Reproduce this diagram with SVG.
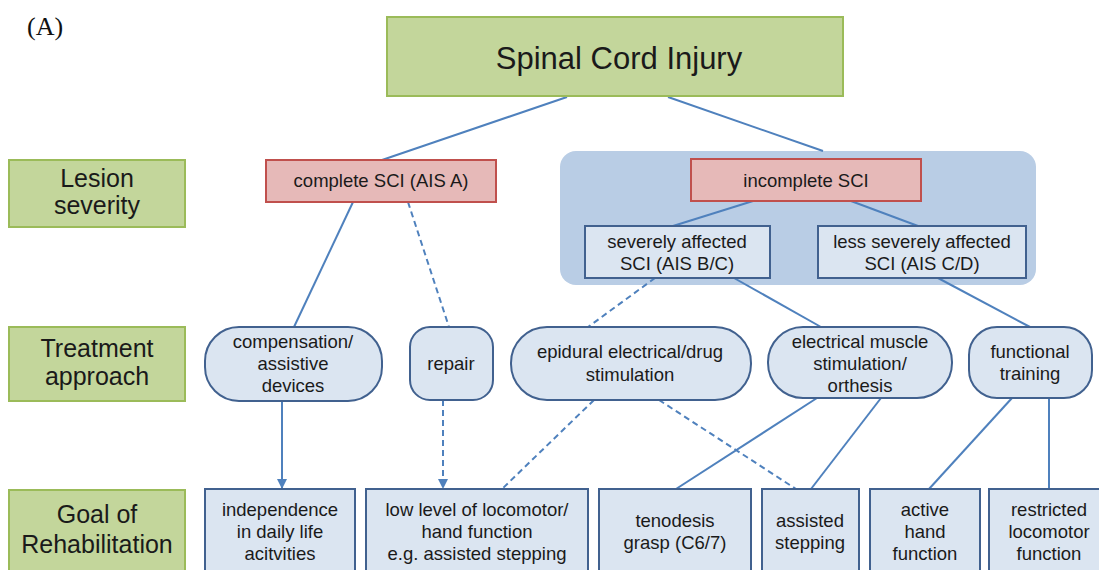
<svg xmlns="http://www.w3.org/2000/svg" width="1099" height="570" viewBox="0 0 1099 570">
<defs>
<style>
.lvl{fill:#c3d69b;stroke:#9bbb59;stroke-width:2}
.red{fill:#e6b9b8;stroke:#c0504d;stroke-width:2}
.blu{fill:#dbe5f1;stroke:#41618f;stroke-width:2}
.bg{fill:#b9cde5}
.t{font-family:"Liberation Sans",Arial,sans-serif;fill:#1a1a1a;text-anchor:middle}
.n{font-size:18.5px}
.big{font-size:25px}
.c{stroke:#4f81bd;stroke-width:2;fill:none}
.d{stroke-dasharray:6 4}
</style>
<marker id="ah" viewBox="0 0 10 10" refX="9" refY="5" markerWidth="5" markerHeight="5" orient="auto" markerUnits="strokeWidth">
<path d="M0,0 L10,5 L0,10 z" fill="#4f81bd"/>
</marker>
</defs>
<rect width="1099" height="570" fill="#ffffff"/>
<text x="27" y="35" font-family="Liberation Serif, 'Times New Roman', serif" font-size="26" fill="#111">(A)</text>

<g id="background-incomplete"><rect class="bg" x="560" y="151" width="476" height="134" rx="16"/></g>

<g id="connectors">
<line class="c" x1="567" y1="97" x2="382" y2="160"/>
<line class="c" x1="668" y1="97" x2="823" y2="151"/>
<line class="c" x1="753" y1="201" x2="673" y2="226"/>
<line class="c" x1="851" y1="201" x2="918" y2="226"/>
<line class="c" x1="353" y1="202" x2="294" y2="327"/>
<line class="c d" x1="408" y1="202" x2="449" y2="327"/>
<line class="c d" x1="655" y1="278" x2="588" y2="327"/>
<line class="c" x1="734" y1="278" x2="821" y2="327"/>
<line class="c" x1="938" y1="278" x2="1030" y2="327"/>
<line class="c" x1="282" y1="401" x2="282" y2="488" marker-end="url(#ah)"/>
<line class="c d" x1="443" y1="400" x2="443" y2="488" marker-end="url(#ah)"/>
<line class="c d" x1="594" y1="400" x2="502" y2="489"/>
<line class="c d" x1="659" y1="400" x2="796" y2="489"/>
<line class="c" x1="817" y1="398" x2="676" y2="489"/>
<line class="c" x1="881" y1="398" x2="811" y2="489"/>
<line class="c" x1="1012" y1="398" x2="929" y2="489"/>
<line class="c" x1="1049" y1="398" x2="1049" y2="489"/>
</g>

<g id="sci"><rect class="lvl" x="387" y="17" width="456" height="79"/><text class="t" x="619" y="69" font-size="31">Spinal Cord Injury</text></g>

<g id="lesion-severity"><rect class="lvl" x="9" y="160" width="176" height="67"/><text class="t big"><tspan x="97" y="187">Lesion</tspan><tspan x="97" y="214">severity</tspan></text></g>
<g id="treatment-approach"><rect class="lvl" x="9" y="327" width="176" height="74"/><text class="t big"><tspan x="97" y="357">Treatment</tspan><tspan x="97" y="385">approach</tspan></text></g>
<g id="goal-rehab"><rect class="lvl" x="9" y="490" width="176" height="90"/><text class="t big"><tspan x="97" y="523">Goal of</tspan><tspan x="97" y="553">Rehabilitation</tspan></text></g>

<g id="complete"><rect class="red" x="266" y="160" width="230" height="42"/><text class="t n" x="381" y="187">complete SCI (AIS A)</text></g>
<g id="incomplete"><rect class="red" x="691" y="159" width="230" height="42"/><text class="t n" x="806" y="187">incomplete SCI</text></g>
<g id="severe"><rect class="blu" x="585" y="226" width="185" height="52"/><text class="t n"><tspan x="677" y="248">severely affected</tspan><tspan x="677" y="270">SCI (AIS B/C)</tspan></text></g>
<g id="less-severe"><rect class="blu" x="818" y="226" width="208" height="52"/><text class="t n"><tspan x="922" y="248">less severely affected</tspan><tspan x="922" y="270">SCI (AIS C/D)</tspan></text></g>

<g id="compensation"><rect class="blu" x="205" y="327" width="177" height="74" rx="34"/><text class="t n"><tspan x="293" y="348">compensation/</tspan><tspan x="293" y="370">assistive</tspan><tspan x="293" y="392">devices</tspan></text></g>
<g id="repair"><rect class="blu" x="410" y="327" width="83" height="73" rx="20"/><text class="t n" x="451" y="370">repair</text></g>
<g id="epidural"><rect class="blu" x="511" y="327" width="240" height="73" rx="36"/><text class="t n"><tspan x="630" y="358">epidural electrical/drug</tspan><tspan x="630" y="381">stimulation</tspan></text></g>
<g id="ems"><rect class="blu" x="768" y="327" width="184" height="71" rx="35"/><text class="t n"><tspan x="860" y="348">electrical muscle</tspan><tspan x="860" y="370">stimulation/</tspan><tspan x="860" y="392">orthesis</tspan></text></g>
<g id="functional"><rect class="blu" x="969" y="327" width="123" height="71" rx="28"/><text class="t n"><tspan x="1030" y="358">functional</tspan><tspan x="1030" y="380">training</tspan></text></g>

<g id="independence"><rect class="blu" x="205" y="489" width="150" height="95"/><text class="t n"><tspan x="280" y="516">independence</tspan><tspan x="280" y="538">in daily life</tspan><tspan x="280" y="560">acitvities</tspan></text></g>
<g id="low-level"><rect class="blu" x="366" y="489" width="222" height="95"/><text class="t n"><tspan x="477" y="516">low level of locomotor/</tspan><tspan x="477" y="538">hand function</tspan><tspan x="477" y="560">e.g. assisted stepping</tspan></text></g>
<g id="tenodesis"><rect class="blu" x="599" y="489" width="152" height="95"/><text class="t n"><tspan x="675" y="527">tenodesis</tspan><tspan x="675" y="549">grasp (C6/7)</tspan></text></g>
<g id="assisted"><rect class="blu" x="762" y="489" width="97" height="95"/><text class="t n"><tspan x="810" y="527">assisted</tspan><tspan x="810" y="549">stepping</tspan></text></g>
<g id="active-hand"><rect class="blu" x="870" y="489" width="110" height="95"/><text class="t n"><tspan x="925" y="516">active</tspan><tspan x="925" y="538">hand</tspan><tspan x="925" y="560">function</tspan></text></g>
<g id="restricted"><rect class="blu" x="989" y="489" width="120" height="95"/><text class="t n"><tspan x="1049" y="516">restricted</tspan><tspan x="1049" y="538">locomotor</tspan><tspan x="1049" y="560">function</tspan></text></g>
</svg>
